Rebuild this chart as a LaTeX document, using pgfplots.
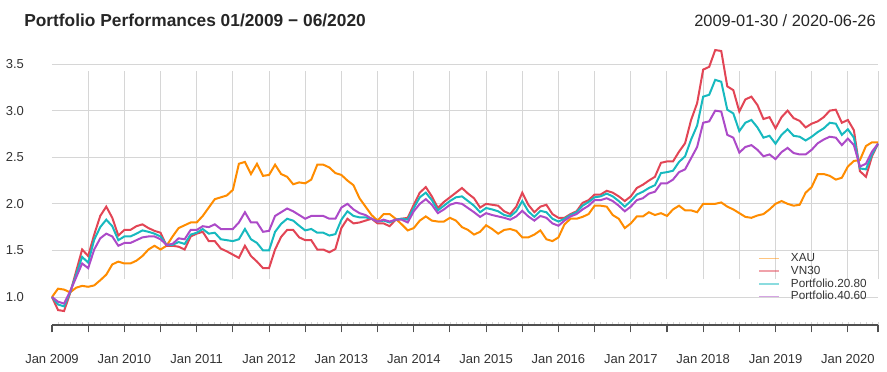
\documentclass[border=0pt]{standalone}
\usepackage{pgfplots}
\pgfplotsset{compat=1.18}
\usepackage{pgfplotstable}
\usepackage{fontspec}
\setmainfont{Liberation Sans}
\definecolor{cXAU}{RGB}{255,140,0}
\definecolor{cVN}{RGB}{226,69,85}
\definecolor{cP28}{RGB}{23,185,191}
\definecolor{cP46}{RGB}{172,74,200}
\definecolor{gridc}{RGB}{214,214,214}
\definecolor{axisc}{RGB}{80,80,80}
\definecolor{labc}{RGB}{51,51,51}

\pgfplotstableread{
m xau vn p28 p46
0 1.00 1.00 1.00 1.00
1 1.09 0.86 0.92 0.95
2 1.08 0.85 0.90 0.93
3 1.05 1.04 1.05 1.06
4 1.10 1.275 1.24 1.21
5 1.12 1.51 1.43 1.36
6 1.11 1.44 1.37 1.31
7 1.125 1.67 1.615 1.51
8 1.18 1.87 1.75 1.63
9 1.24 1.97 1.83 1.68
10 1.35 1.85 1.76 1.65
11 1.38 1.66 1.61 1.55
12 1.36 1.72 1.65 1.58
13 1.36 1.72 1.65 1.58
14 1.39 1.76 1.68 1.61
15 1.44 1.78 1.715 1.64
16 1.51 1.74 1.70 1.65
17 1.55 1.71 1.68 1.65
18 1.51 1.69 1.65 1.62
19 1.55 1.55 1.56 1.56
20 1.65 1.55 1.56 1.57
21 1.74 1.54 1.59 1.63
22 1.77 1.51 1.57 1.62
23 1.80 1.65 1.67 1.72
24 1.80 1.68 1.69 1.72
25 1.87 1.70 1.73 1.76
26 1.96 1.60 1.68 1.75
27 2.05 1.60 1.69 1.78
28 2.07 1.52 1.62 1.73
29 2.09 1.49 1.61 1.73
30 2.15 1.455 1.60 1.73
31 2.43 1.42 1.62 1.80
32 2.45 1.55 1.73 1.91
33 2.32 1.44 1.62 1.80
34 2.43 1.38 1.58 1.80
35 2.30 1.31 1.50 1.70
36 2.31 1.31 1.50 1.71
37 2.42 1.51 1.70 1.87
38 2.32 1.645 1.785 1.91
39 2.29 1.72 1.84 1.95
40 2.21 1.72 1.82 1.92
41 2.23 1.64 1.765 1.88
42 2.22 1.61 1.715 1.84
43 2.26 1.61 1.73 1.87
44 2.42 1.51 1.69 1.87
45 2.42 1.51 1.69 1.87
46 2.39 1.48 1.66 1.84
47 2.33 1.515 1.675 1.84
48 2.31 1.74 1.83 1.96
49 2.25 1.84 1.92 2.00
50 2.20 1.79 1.87 1.94
51 2.06 1.80 1.855 1.90
52 1.97 1.82 1.855 1.88
53 1.88 1.84 1.84 1.84
54 1.82 1.79 1.81 1.81
55 1.89 1.79 1.82 1.83
56 1.89 1.76 1.80 1.81
57 1.84 1.83 1.83 1.83
58 1.78 1.84 1.84 1.83
59 1.715 1.85 1.83 1.80
60 1.74 1.99 1.955 1.92
61 1.82 2.12 2.07 2.00
62 1.865 2.18 2.12 2.05
63 1.82 2.08 2.04 1.99
64 1.81 1.955 1.93 1.90
65 1.81 2.02 1.98 1.94
66 1.85 2.07 2.03 1.99
67 1.82 2.12 2.07 2.01
68 1.75 2.17 2.08 2.00
69 1.72 2.11 2.03 1.955
70 1.67 2.06 1.98 1.91
71 1.70 1.96 1.91 1.86
72 1.77 2.00 1.955 1.90
73 1.73 1.99 1.94 1.88
74 1.68 1.98 1.92 1.865
75 1.72 1.92 1.88 1.85
76 1.73 1.89 1.865 1.83
77 1.71 1.97 1.92 1.865
78 1.64 2.12 2.03 1.925
79 1.64 1.99 1.92 1.865
80 1.67 1.91 1.86 1.82
81 1.715 1.97 1.925 1.87
82 1.62 1.99 1.91 1.85
83 1.60 1.89 1.84 1.79
84 1.64 1.85 1.81 1.765
85 1.78 1.85 1.84 1.82
86 1.84 1.89 1.88 1.865
87 1.84 1.92 1.91 1.89
88 1.86 2.01 1.98 1.94
89 1.89 2.04 2.02 1.98
90 1.98 2.10 2.07 2.04
91 1.98 2.10 2.08 2.04
92 1.97 2.14 2.11 2.06
93 1.88 2.12 2.08 2.03
94 1.84 2.08 2.03 1.98
95 1.74 2.03 1.97 1.92
96 1.79 2.08 2.03 1.97
97 1.865 2.17 2.10 2.04
98 1.865 2.205 2.13 2.06
99 1.91 2.25 2.17 2.11
100 1.88 2.29 2.20 2.13
101 1.90 2.44 2.33 2.22
102 1.87 2.455 2.34 2.22
103 1.94 2.455 2.355 2.26
104 1.98 2.56 2.45 2.34
105 1.93 2.65 2.51 2.37
106 1.93 2.90 2.69 2.49
107 1.91 3.08 2.84 2.61
108 2.00 3.44 3.15 2.87
109 2.00 3.47 3.17 2.885
110 2.00 3.65 3.33 3.00
111 2.015 3.64 3.31 2.99
112 1.97 3.26 3.01 2.74
113 1.94 3.22 2.97 2.71
114 1.90 2.99 2.78 2.55
115 1.86 3.12 2.87 2.61
116 1.85 3.15 2.90 2.63
117 1.875 3.06 2.82 2.58
118 1.89 2.91 2.71 2.51
119 1.94 2.93 2.73 2.53
120 2.00 2.81 2.645 2.48
121 2.03 2.93 2.74 2.555
122 2.00 3.00 2.80 2.60
123 1.98 2.92 2.73 2.545
124 1.99 2.89 2.72 2.53
125 2.12 2.82 2.68 2.53
126 2.18 2.86 2.72 2.58
127 2.32 2.885 2.77 2.65
128 2.32 2.93 2.81 2.69
129 2.30 3.00 2.87 2.72
130 2.26 3.01 2.86 2.71
131 2.28 2.87 2.74 2.63
132 2.40 2.90 2.80 2.70
133 2.46 2.79 2.71 2.63
134 2.47 2.35 2.38 2.40
135 2.62 2.29 2.37 2.43
136 2.66 2.51 2.53 2.56
137 2.66 2.645 2.645 2.645
}\perf

\begin{document}
\begin{tikzpicture}
\path[use as bounding box] (0,0) rectangle (665.25pt,278.25pt);
\begin{axis}[
  at={(39pt,34.5pt)}, anchor=south west,
  scale only axis, width=619.5pt, height=213.2pt,
  xmin=0, xmax=137, ymin=0.7, ymax=3.75,
  clip=false,
  axis line style={draw=none},
  /pgf/number format/assume math mode=true,
  ytick={1,1.5,2,2.5,3,3.5},
  ytick pos=left,
  ytick style={draw=none},
  yticklabel style={font=\fontsize{9.75}{11}\selectfont, text=labc, xshift=-12pt,
    /pgf/number format/fixed, /pgf/number format/fixed zerofill, /pgf/number format/precision=1},
  ymajorgrids,
  major grid style={draw=gridc, line width=0.75pt},
  xtick={0,12,24,36,48,60,72,84,96,108,120,132},
  xticklabels={Jan 2009,Jan 2010,Jan 2011,Jan 2012,Jan 2013,Jan 2014,Jan 2015,Jan 2016,Jan 2017,Jan 2018,Jan 2019,Jan 2020},
  extra x ticks={6,18,30,42,54,66,78,90,102,114,126,137},
  extra x tick labels={},
  extra x tick style={grid=none},
  xtick pos=left,
  xticklabel style={font=\fontsize{9.75}{11}\selectfont, text=labc, yshift=-13pt},
  tick align=outside,
  major tick length=5.5pt,
  every tick/.append style={draw=axisc, line width=0.8pt},
  minor xtick={1,...,137},
  minor tick length=2.5pt,
  every minor tick/.append style={draw=gridc, line width=0.5pt, yshift=2.5pt},
  legend style={draw=none, fill=none, at={(0.855,0.262)}, anchor=north west,
    font=\fontsize{8.8}{10}\selectfont, text=labc, row sep=-2.2pt, inner sep=0pt},
  legend cell align=left,
  legend image code/.code={\draw[#1, opacity=0.5, line width=1.2pt] (0pt,0pt) -- (15pt,0pt); \path (21pt,0pt);},
]
\pgfplotsinvokeforeach{6,12,18,24,30,36,42,48,54,60,66,72,78,84,90,96,102,108,114,120,126,132,137}{
  \draw[gridc, line width=0.75pt] (axis cs:#1,1.193) -- (axis cs:#1,3.425);
}
\addplot[cXAU, line width=1.5pt] table[x=m, y=xau] {\perf};
\addlegendentry{XAU}
\addplot[cVN, line width=1.5pt] table[x=m, y=vn] {\perf};
\addlegendentry{VN30}
\addplot[cP28, line width=1.5pt] table[x=m, y=p28] {\perf};
\addlegendentry{Portfolio.20.80}
\addplot[cP46, line width=1.5pt] table[x=m, y=p46] {\perf};
\addlegendentry{Portfolio.40.60}
\draw[axisc, line width=1pt] (rel axis cs:0,0) -- (rel axis cs:1,0);
\end{axis}
\node[anchor=base west, font=\bfseries\fontsize{13}{15}\selectfont, text=black!85, inner sep=0pt] at (18pt,258pt) {Portfolio Performances 01/2009 − 06/2020};
\node[anchor=base east, font=\fontsize{12.3}{14}\selectfont, text=black!85, inner sep=0pt] at (657pt,258pt) {2009-01-30 / 2020-06-26};
\end{tikzpicture}
\end{document}
